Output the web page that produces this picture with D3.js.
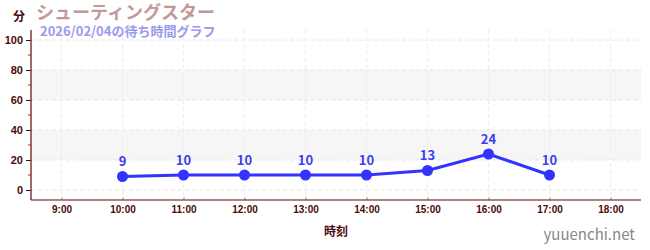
<!DOCTYPE html>
<html lang="ja">
<head>
<meta charset="UTF-8">
<title>シューティングスター</title>
<script src="https://d3js.org/d3.v7.min.js"></script>
<style>
    body { margin: 0; padding: 0; background: #fff; }
    svg { display: block; font-family: "Noto Sans CJK JP", "Noto Sans", sans-serif; }
    .tick text { font-weight: bold; fill: #4a0a0a; }
</style>
</head>
<body>
<div id="chart"></div>
<script>
    const times = [10, 11, 12, 13, 14, 15, 16, 17];
    const waits = [9, 10, 10, 10, 10, 13, 24, 10];
    const hourTicks = [9, 10, 11, 12, 13, 14, 15, 16, 17, 18];
    const yTicks = [0, 20, 40, 60, 80, 100];
    const yMinor = [10, 30, 50, 70, 90];
    const bands = [[20, 40], [60, 80]];

    const width = 650, height = 250;
    const pLeft = 31, pRight = 641, pTop = 30, pBottom = 200;

    const svg = d3.select("#chart").append("svg")
        .attr("width", width)
        .attr("height", height);

    const x = d3.scaleLinear().domain([8.5, 18.5]).range([pLeft, pRight]);
    const y = d3.scaleLinear().domain([-6.67, 106.67]).range([pBottom, pTop]);

    // bandas grises
    svg.selectAll(".band").data(bands).enter().append("rect")
        .attr("x", pLeft).attr("width", pRight - pLeft)
        .attr("y", d => y(d[1]))
        .attr("height", d => y(d[0]) - y(d[1]))
        .attr("fill", "#f6f6f6");

    // cuadricula
    svg.selectAll(".hgrid").data(yTicks).enter().append("line")
        .attr("x1", pLeft).attr("x2", pRight)
        .attr("y1", d => y(d)).attr("y2", d => y(d))
        .attr("stroke", "#e6e6e6").attr("stroke-dasharray", "4,3");
    svg.selectAll(".vgrid").data(hourTicks).enter().append("line")
        .attr("x1", d => x(d)).attr("x2", d => x(d))
        .attr("y1", pTop).attr("y2", pBottom)
        .attr("stroke", "#ececec").attr("stroke-dasharray", "4,3");

    // eje y
    const yAxis = svg.append("g")
        .attr("transform", `translate(${pLeft},0)`)
        .call(d3.axisLeft(y).tickValues(yTicks).tickSize(5).tickPadding(3));
    yAxis.selectAll(".tick text").style("font-size", "11px");
    yAxis.selectAll(".tick line").attr("stroke", "#4a0a0a");
    yAxis.select(".domain").remove();
    svg.selectAll(".minor").data(yMinor).enter().append("line")
        .attr("x1", pLeft - 3).attr("x2", pLeft)
        .attr("y1", d => y(d)).attr("y2", d => y(d))
        .attr("stroke", "#dd2222");
    svg.append("line")
        .attr("x1", pLeft).attr("x2", pLeft)
        .attr("y1", pTop).attr("y2", pBottom)
        .attr("stroke", "#5a0a0a").attr("stroke-width", 1.2);

    // eje x
    const xAxis = svg.append("g")
        .attr("transform", `translate(0,${pBottom})`)
        .call(d3.axisBottom(x).tickValues(hourTicks).tickFormat(d => d + ":00").tickSizeInner(-3).tickSizeOuter(0).tickPadding(6));
    xAxis.selectAll(".tick text").style("font-size", "10px");
    xAxis.selectAll(".tick line").attr("stroke", "#999");
    xAxis.select(".domain").remove();
    svg.append("line")
        .attr("x1", pLeft).attr("x2", pRight)
        .attr("y1", pBottom).attr("y2", pBottom)
        .attr("stroke", "#5a0a0a").attr("stroke-width", 1.2);

    // linea
    const line = d3.line().x((d, i) => x(times[i])).y(d => y(d));
    svg.append("path")
        .datum(waits)
        .attr("d", line)
        .attr("fill", "none")
        .attr("stroke", "#3333ff")
        .attr("stroke-width", 3);

    svg.selectAll(".pt").data(waits).enter().append("circle")
        .attr("cx", (d, i) => x(times[i]))
        .attr("cy", d => y(d))
        .attr("r", 5.5)
        .attr("fill", "#3333ff");

    svg.selectAll(".lbl").data(waits).enter().append("text")
        .attr("x", (d, i) => x(times[i]))
        .attr("y", d => y(d) - 10)
        .attr("text-anchor", "middle")
        .attr("font-size", "13px")
        .attr("font-weight", "bold")
        .attr("fill", "#3f3fee")
        .text(d => d);

    // textos
    svg.append("text").attr("x", 13).attr("y", 21)
        .attr("font-size", "12px").attr("font-weight", "bold").attr("fill", "#4a0a0a")
        .text("分");
    svg.append("text").attr("x", 36).attr("y", 19)
        .attr("font-size", "18px").attr("font-weight", "bold").attr("fill", "#c49898")
        .text("シューティングスター");
    svg.append("text").attr("x", 40).attr("y", 36)
        .attr("font-size", "13px").attr("font-weight", "bold").attr("fill", "#9a9aee")
        .text("2026/02/04の待ち時間グラフ");
    svg.append("text").attr("x", 336).attr("y", 236)
        .attr("text-anchor", "middle")
        .attr("font-size", "12px").attr("font-weight", "bold").attr("fill", "#4a0a0a")
        .text("時刻");
    svg.append("text").attr("x", 635).attr("y", 240)
        .attr("text-anchor", "end")
        .attr("font-size", "15px").attr("fill", "#888")
        .text("yuuenchi.net");
</script>
</body>
</html>
